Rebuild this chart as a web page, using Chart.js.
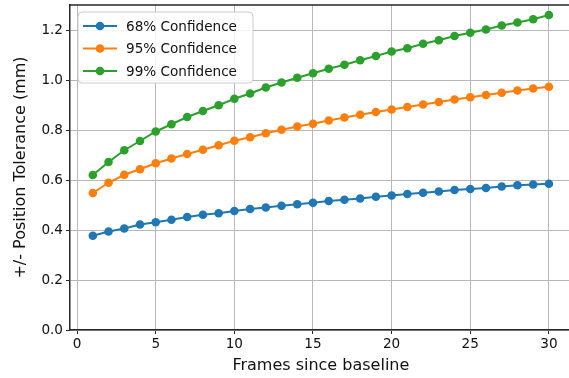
<!DOCTYPE html>
<html>
<head>
<meta charset="utf-8">
<script src="https://cdn.jsdelivr.net/npm/chart.js@4"></script>
<style>
  html, body { margin: 0; padding: 0; background: #fff; overflow: hidden; }
  canvas { display: block; }
</style>
</head>
<body>
<canvas id="toleranceChart" width="576" height="378"></canvas>
<script>
// Datos
const frames = [1, 2, 3, 4, 5, 6, 7, 8, 9, 10, 11, 12, 13, 14, 15,
  16, 17, 18, 19, 20, 21, 22, 23, 24, 25, 26, 27, 28, 29, 30];
const conf68 = [0.377, 0.394, 0.406, 0.422, 0.431, 0.441, 0.452, 0.461, 0.467, 0.476,
  0.484, 0.490, 0.497, 0.503, 0.509, 0.516, 0.521, 0.526, 0.533, 0.538,
  0.544, 0.549, 0.554, 0.560, 0.564, 0.568, 0.574, 0.579, 0.582, 0.585];
const conf95 = [0.548, 0.589, 0.621, 0.643, 0.667, 0.686, 0.704, 0.721, 0.739, 0.757,
  0.771, 0.787, 0.801, 0.814, 0.825, 0.838, 0.850, 0.861, 0.872, 0.882,
  0.892, 0.902, 0.912, 0.922, 0.931, 0.940, 0.949, 0.958, 0.966, 0.973];
const conf99 = [0.620, 0.672, 0.719, 0.756, 0.794, 0.823, 0.852, 0.876, 0.899, 0.925,
  0.946, 0.970, 0.990, 1.009, 1.027, 1.045, 1.061, 1.079, 1.096, 1.114,
  1.127, 1.145, 1.159, 1.176, 1.189, 1.202, 1.218, 1.230, 1.243, 1.260];
const xTicks = [0, 5, 10, 15, 20, 25, 30];
const yTicks = [0, 0.2, 0.4, 0.6, 0.8, 1.0, 1.2];

const toPoints = (ys) => frames.map((x, i) => ({ x: x, y: ys[i] }));

const FONT = "'DejaVu Sans', sans-serif";
const TEXT = "#111111";

// Leyenda estilo matplotlib (línea + marcador)
const mplLegend = {
  id: "mplLegend",
  afterDatasetsDraw(chart) {
    const ctx = chart.ctx;
    const a = chart.chartArea;
    const x0 = a.left + 8, y0 = a.top + 7, w = 175, h = 71;
    ctx.save();
    ctx.beginPath();
    ctx.roundRect(x0, y0, w, h, 4);
    ctx.fillStyle = "rgba(255,255,255,0.85)";
    ctx.fill();
    ctx.strokeStyle = "#cccccc";
    ctx.lineWidth = 1;
    ctx.stroke();
    ctx.font = "13.6px " + FONT;
    ctx.textBaseline = "middle";
    chart.data.datasets.forEach((ds, i) => {
      const y = y0 + 14 + i * 22.5;
      ctx.strokeStyle = ds.borderColor;
      ctx.lineWidth = 2;
      ctx.beginPath();
      ctx.moveTo(x0 + 5, y);
      ctx.lineTo(x0 + 39, y);
      ctx.stroke();
      ctx.fillStyle = ds.borderColor;
      ctx.beginPath();
      ctx.arc(x0 + 22, y, 4.3, 0, Math.PI * 2);
      ctx.fill();
      ctx.fillStyle = TEXT;
      ctx.fillText(ds.label, x0 + 48, y + 1);
    });
    ctx.restore();
  },
};

// Marco superior y derecho
const frame = {
  id: "frame",
  beforeDatasetsDraw(chart) {
    const ctx = chart.ctx;
    const a = chart.chartArea;
    ctx.save();
    ctx.strokeStyle = "#262626";
    ctx.lineWidth = 1.5;
    ctx.beginPath();
    ctx.moveTo(a.left, a.top);
    ctx.lineTo(a.right, a.top);
    ctx.lineTo(a.right, a.bottom);
    ctx.stroke();
    ctx.restore();
  },
};

const ctx = document.getElementById("toleranceChart").getContext("2d");
const toleranceChart = new Chart(ctx, {
  type: "line",
  data: {
    datasets: [
      { label: "68% Confidence", data: toPoints(conf68), borderColor: "#1f77b4", backgroundColor: "#1f77b4" },
      { label: "95% Confidence", data: toPoints(conf95), borderColor: "#ff7f0e", backgroundColor: "#ff7f0e" },
      { label: "99% Confidence", data: toPoints(conf99), borderColor: "#2ca02c", backgroundColor: "#2ca02c" },
    ],
  },
  options: {
    responsive: false,
    animation: false,
    layout: { padding: { top: 5, right: 0, left: 0, bottom: 0 } },
    elements: {
      line: { borderWidth: 2, tension: 0, fill: false },
      point: { radius: 4.3, borderWidth: 0, hoverRadius: 4.3 },
    },
    scales: {
      x: {
        type: "linear",
        min: -0.45,
        max: 31.45,
        afterBuildTicks: (scale) => { scale.ticks = xTicks.map((v) => ({ value: v })); },
        afterFit: (scale) => {
          scale.height = 48;
          scale.paddingLeft = 0;
          scale.paddingRight = 0;
        },
        ticks: { color: TEXT, font: { family: FONT, size: 13.6 }, padding: 2, maxRotation: 0 },
        grid: { color: "#b8b8b8", lineWidth: 1, tickLength: 4, tickColor: "#262626" },
        border: { display: true, color: "#262626", width: 1.5 },
        title: {
          display: true,
          text: "Frames since baseline",
          color: TEXT,
          font: { family: FONT, size: 16 },
          padding: { top: 0, bottom: 3 },
        },
      },
      y: {
        min: 0,
        max: 1.3,
        afterBuildTicks: (scale) => { scale.ticks = yTicks.map((v) => ({ value: v })); },
        afterFit: (scale) => {
          scale.width = 70;
          scale.paddingTop = 0;
          scale.paddingBottom = 0;
        },
        ticks: {
          color: TEXT,
          font: { family: FONT, size: 13.6 },
          padding: 3,
          callback: (v) => v.toFixed(1),
        },
        grid: { color: "#b8b8b8", lineWidth: 1, tickLength: 4, tickColor: "#262626" },
        border: { display: true, color: "#262626", width: 1.5 },
        title: {
          display: true,
          text: "+/- Position Tolerance (mm)",
          color: TEXT,
          font: { family: FONT, size: 16 },
          padding: { top: 11, bottom: 0 },
        },
      },
    },
    plugins: {
      legend: { display: false },
      tooltip: { enabled: false },
    },
  },
  plugins: [frame, mplLegend],
});
</script>
</body>
</html>
